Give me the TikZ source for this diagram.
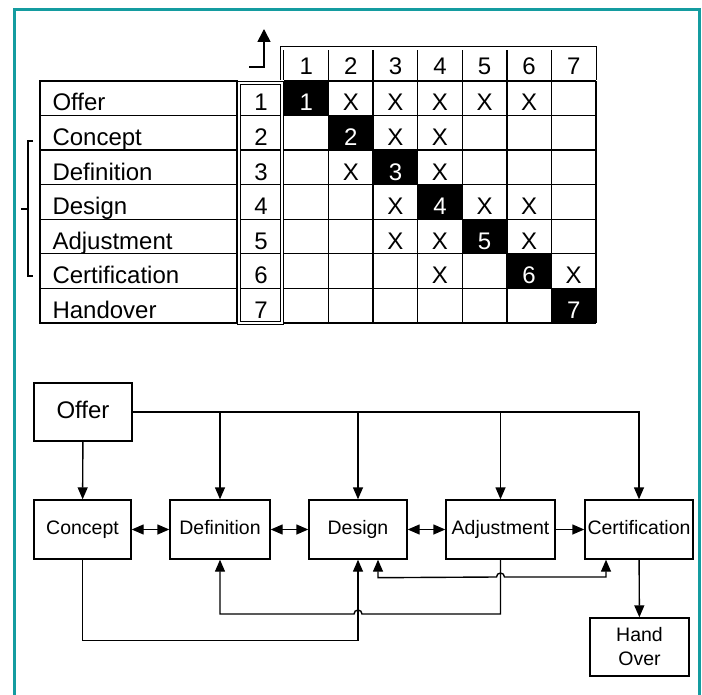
\documentclass[tikz,border=0pt]{standalone}
\usepackage{fontspec}
\setmainfont{Liberation Sans}
\usetikzlibrary{arrows.meta}
\definecolor{frameteal}{RGB}{20,156,160}
\tikzset{
  tabfont/.style={font=\fontsize{24}{27}\selectfont},
  boxfont/.style={font=\fontsize{19.5}{22}\selectfont},
  phasebox/.style={draw, line width=1.4pt, minimum height=59pt, inner sep=1pt, text height=14pt, text depth=4pt, boxfont},
  gridline/.style={line width=1.3pt},
  dblline/.style={double, line width=0.8pt, double distance=2.4pt},
}
\begin{document}
\begin{tikzpicture}[x=1pt, y=-1pt, >={Triangle[length=12pt,width=10pt]}]
\useasboundingbox (0,0) rectangle (702,695);
% frame
\draw[frameteal, line width=3pt] (14,700) -- (14,9.5) -- (699,9.5) -- (699,700);

% ---- matrix ----
\def\rh{34.57}
\def\cw{44.57}
% label column
\draw[gridline] (40,81) rectangle (237,323);
\foreach \i/\name in {1/Offer,2/Concept,3/Definition,4/Design,5/Adjustment,6/Certification,7/Handover} {
    \node[tabfont, anchor=base west] (lbl\i) at (49,111+\i*\rh-\rh) {\name};
    \node[tabfont, anchor=base] (num\i) at (261,111+\i*\rh-\rh) {\i};
    \node[tabfont, anchor=base] (head\i) at (284+\i*\cw-0.5*\cw,75) {\i};
    \fill (284+\i*\cw-\cw,81+\i*\rh-\rh) rectangle ++(\cw,\rh);
    \node[tabfont, anchor=base, text=white] (diag\i) at (284+\i*\cw-0.5*\cw,111+\i*\rh-\rh) {\i};
  }
\foreach \i in {1,...,6} {
    \draw[gridline] (40,81+\i*\rh) -- (596,81+\i*\rh);
  }
\foreach \j in {1,...,6} {
    \draw[gridline] (284+\j*\cw,50) -- (284+\j*\cw,323);
  }
\draw[gridline] (284,81) -- (596,81);
\draw[gridline] (282,323) -- (596,323);
\draw[gridline] (596,81) -- (596,323);
% number column and header
\draw[dblline] (239,83) rectangle (282,323);
\draw[dblline] (282,80) -- (282,48.5) -- (594.5,48.5) -- (594.5,80);
% dependencies
\foreach \r/\c in {1/2,1/3,1/4,1/5,1/6,2/3,2/4,3/2,3/4,4/3,4/5,4/6,5/3,5/4,5/6,6/4,6/7} {
    \node[tabfont, anchor=base] (x\r\c) at (284+\c*\cw-0.5*\cw,111+\r*\rh-\rh) {X};
  }
% corner arrow
\draw[->, >={Triangle[length=13pt,width=13pt]}, line width=1.6pt] (249,67) -- (264,67) -- (264,29);
% bracket
\draw[line width=1.3pt] (33,141) -- (28,141) -- (28,276) -- (33,276);
\draw[line width=1.3pt] (28,209) -- (21,209);

% ---- flow ----
\node[phasebox, minimum width=98pt, minimum height=58pt, tabfont, text height=17pt] (offer) at (83,412) {Offer};
\node[phasebox, minimum width=97pt] (concept) at (82.5,529.5) {Concept};
\node[phasebox, minimum width=100pt] (definition) at (220,529.5) {Definition};
\node[phasebox, minimum width=98pt] (design) at (358,529.5) {Design};
\node[phasebox, minimum width=109pt] (adjustment) at (500.5,529.5) {Adjustment};
\node[phasebox, minimum width=108pt] (certification) at (639,529.5) {Certification};
\node[phasebox, minimum width=99pt, minimum height=58pt, align=center, text height=, text depth=, font=\fontsize{19.5}{24}\selectfont] (handover) at (639.5,647) {Hand\\Over};

\begin{scope}[line width=1.4pt]
\draw[->] (offer.east) -| (certification.north);
\draw[->] (definition.north |- offer.east) -- (definition.north);
\draw[->] (design.north |- offer.east) -- (design.north);
\draw[->] (adjustment.north |- offer.east) -- (adjustment.north);
\draw[->] (offer) -- (concept);
\draw[<->] (concept) -- (definition);
\draw[<->] (definition) -- (design);
\draw[<->] (design) -- (adjustment);
\draw[->] (adjustment) -- (certification);
\draw[->] (certification) -- (handover);
\draw[->] (concept.south) -- ++(0,81) -| (design.south);
\draw[->] (adjustment.south) -- (adjustment.south |- 0,614) -- (362,614)
    arc[start angle=0, end angle=180, radius=4pt] -- (definition.south |- 0,614) -- (definition.south);
\draw[<->] ([xshift=20pt]design.south) -- ++(0,18) -- (496.5,577)
    arc[start angle=180, end angle=0, radius=4pt] -- (606,577) -- ([xshift=-33pt]certification.south);
\end{scope}
\end{tikzpicture}
\end{document}
